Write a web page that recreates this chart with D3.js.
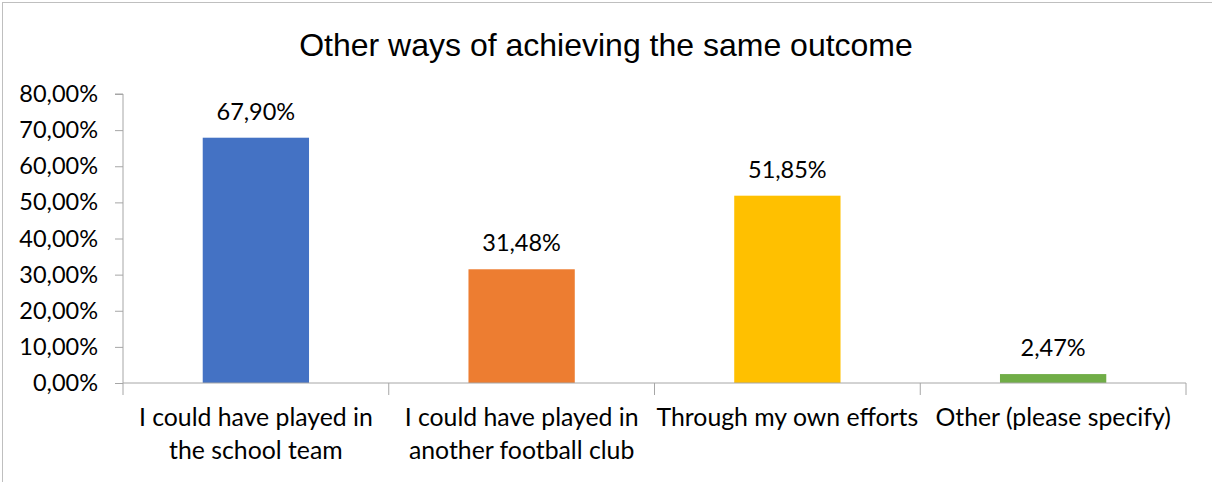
<!DOCTYPE html>
<html>
<head>
<meta charset="utf-8">
<script src="https://cdn.jsdelivr.net/npm/d3@7"></script>
<style>
  html, body { margin: 0; padding: 0; background: #fff; }
  svg { display: block; }
</style>
</head>
<body>
<svg id="chart" width="1212" height="482"></svg>
<script>
// Survey answers: other ways of achieving the same outcome
const categories = [
  ["I could have played in", "the school team"],
  ["I could have played in", "another football club"],
  ["Through my own efforts"],
  ["Other (please specify)"]
];
const values = [67.90, 31.48, 51.85, 2.47];
const colors = ["#4472C4", "#ED7D31", "#FFC000", "#70AD47"];
const yTicks = [0, 10, 20, 30, 40, 50, 60, 70, 80];
const title = "Other ways of achieving the same outcome";

const fmt = v => v.toFixed(2).replace(".", ",") + "%";

const svg = d3.select("#chart");
const W = 1212, H = 482;
const margin = { left: 123, right: 26, top: 94, bottom: 99 };

// chart area frame
svg.append("rect")
  .attr("x", 2.5).attr("y", 2.5)
  .attr("width", W + 10).attr("height", H + 10)
  .attr("fill", "#fff").attr("stroke", "#BFBFBF").attr("stroke-width", 1);

const x = d3.scaleBand()
  .domain(d3.range(categories.length))
  .range([margin.left, W - margin.right])
  .padding(0);

const y = d3.scaleLinear()
  .domain([0, 80])
  .range([H - margin.bottom, margin.top]);

const font = "Lato, 'Open Sans', sans-serif";

// title
svg.append("text")
  .attr("x", 606).attr("y", 56)
  .attr("text-anchor", "middle")
  .attr("font-family", "'Liberation Sans', Arial, sans-serif")
  .attr("font-size", 32)
  .attr("fill", "#000")
  .text(title);

// y axis
const yAxis = d3.axisLeft(y)
  .tickValues(yTicks)
  .tickFormat(fmt)
  .tickSize(8)
  .tickPadding(17);
const gy = svg.append("g")
  .attr("transform", `translate(${margin.left},0)`)
  .call(yAxis);
gy.select(".domain").attr("stroke", "#A6A6A6").attr("d", `M-8,${y(80)}H0V${y(0)}`);
gy.selectAll(".tick line").attr("stroke", "#A6A6A6");
gy.selectAll(".tick text")
  .attr("font-family", font).attr("font-size", 23.5).attr("fill", "#000");

// bars
const barW = x.bandwidth() * 0.4;
svg.append("g").selectAll("rect")
  .data(values)
  .join("rect")
  .attr("x", (d, i) => x(i) + (x.bandwidth() - barW) / 2)
  .attr("width", barW)
  .attr("y", d => y(d))
  .attr("height", d => y(0) - y(d))
  .attr("fill", (d, i) => colors[i]);

// x axis
const xAxis = d3.axisBottom(x).tickSize(0).tickFormat("");
const gx = svg.append("g")
  .attr("transform", `translate(0,${y(0)})`)
  .call(xAxis);
gx.select(".domain").attr("stroke", "#A6A6A6").attr("d", `M${margin.left},0H${W - margin.right}`);
gx.selectAll(".tick").remove();

// category separators
const bounds = d3.range(categories.length + 1).map(i => margin.left + i * x.step());
gx.selectAll(".sep")
  .data(bounds)
  .join("line")
  .attr("class", "sep")
  .attr("x1", d => d).attr("x2", d => d)
  .attr("y1", 0).attr("y2", 12)
  .attr("stroke", "#A6A6A6");

// category labels
const labels = svg.append("g").selectAll("text")
  .data(categories)
  .join("text")
  .attr("text-anchor", "middle")
  .attr("font-family", font)
  .attr("font-size", 24.8)
  .attr("fill", "#000")
  .attr("x", (d, i) => x(i) + x.bandwidth() / 2)
  .attr("y", 426);
labels.selectAll("tspan")
  .data(d => d)
  .join("tspan")
  .attr("x", function() { return d3.select(this.parentNode).attr("x"); })
  .attr("dy", (d, i) => i === 0 ? 0 : 33)
  .text(d => d);

// value labels
svg.append("g").selectAll("text")
  .data(values)
  .join("text")
  .attr("text-anchor", "middle")
  .attr("font-family", font)
  .attr("font-size", 23.5)
  .attr("fill", "#000")
  .attr("x", (d, i) => x(i) + x.bandwidth() / 2)
  .attr("y", d => y(d) - 18)
  .text(fmt);
</script>
</body>
</html>
